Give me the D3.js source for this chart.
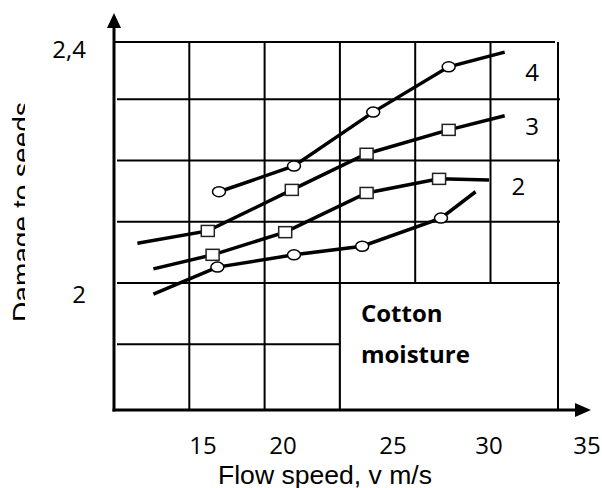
<!DOCTYPE html>
<html>
<head>
<meta charset="utf-8">
<script src="https://cdn.jsdelivr.net/npm/d3@7"></script>
<style>
  body { margin: 0; background: #fff; }
  svg { display: block; }
</style>
</head>
<body>
<div id="chart"></div>
<script>
// values
const xTickValues = [15, 20, 25, 30, 35];
const xTickLabels = ['15', '20', '25', '30', '35'];
const yTickValues = [2, 2.4];
const yTickLabels = ['2', '2,4'];
const gridValues = [1.9, 2.0, 2.1, 2.2, 2.3];

const speed1 = [11.9, 15.9, 20.5, 23.6, 27.5, 29.3];
const damage1 = [1.982, 2.026, 2.046, 2.060, 2.106, 2.149];
const marks1 = [0, 1, 1, 1, 1, 0];

const speed2 = [11.9, 15.6, 20.1, 23.8, 27.4, 30.0];
const damage2 = [2.023, 2.046, 2.083, 2.147, 2.170, 2.168];
const marks2 = [0, 1, 1, 1, 1, 0];

const speed3 = [10.9, 15.3, 20.4, 23.8, 27.9, 30.8];
const damage3 = [2.065, 2.085, 2.152, 2.211, 2.250, 2.273];
const marks3 = [0, 1, 1, 1, 1, 0];

const speed4 = [16.0, 20.5, 24.1, 27.9, 30.8];
const damage4 = [2.149, 2.191, 2.279, 2.353, 2.377];
const marks4 = [1, 1, 1, 1, 0];

const seriesNames = ['1', '2', '3', '4'];
const seriesShapes = ['circle', 'square', 'square', 'circle'];
const labelNames = ['2', '3', '4'];
const labelSpeed = [31.5, 32.2, 32.2];
const labelDamage = [2.157, 2.255, 2.343];

const xTitle = 'Flow speed, v m/s';
const yTitle = 'Damage to seeds';
const boxLines = ['Cotton', 'moisture'];

const W = 602, H = 488;
const plotLeft = 114, plotRight = 558, plotTop = 42, plotBottom = 410;
const cols = 6, colW = 75.3;

const svg = d3.select('#chart').append('svg')
  .attr('width', W)
  .attr('height', H);

const x = d3.scaleLinear().domain(xTickValues).range([203, 283, 393, 489, 587]);
const y = d3.scaleLinear().domain([2, 2.4]).range([283, 38]);

const colX = d3.range(1, cols).map(i => plotLeft + i * colW);
const boxLeft = colX[2];

// grid
const grid = svg.append('g').attr('stroke', '#000').attr('stroke-width', 2);
grid.append('line').attr('x1', plotLeft).attr('x2', plotRight - 3).attr('y1', plotTop).attr('y2', plotTop);
grid.append('line').attr('x1', plotRight).attr('x2', plotRight).attr('y1', plotTop).attr('y2', plotBottom);
grid.selectAll('.hgrid').data(gridValues).enter().append('line')
  .attr('class', 'hgrid')
  .attr('x1', plotLeft + 3)
  .attr('x2', d => (d < 2 ? boxLeft : plotRight + 2))
  .attr('y1', d => y(d))
  .attr('y2', d => y(d));
grid.selectAll('.vgrid').data(colX).enter().append('line')
  .attr('class', 'vgrid')
  .attr('x1', d => d)
  .attr('x2', d => d)
  .attr('y1', plotTop)
  .attr('y2', d => (d > boxLeft ? y(2) : plotBottom));

// moisture box
svg.append('rect')
  .attr('x', boxLeft)
  .attr('y', y(2))
  .attr('width', plotRight - boxLeft)
  .attr('height', plotBottom - y(2))
  .attr('fill', '#fff')
  .attr('stroke', '#000')
  .attr('stroke-width', 2);
svg.selectAll('.boxtext').data(boxLines).enter().append('text')
  .attr('class', 'boxtext')
  .attr('x', boxLeft + 21)
  .attr('y', (d, i) => 322 + i * 41)
  .attr('font-family', 'Open Sans')
  .attr('font-weight', 'bold')
  .attr('font-size', 24)
  .text(d => d);

// series
const series = [
  { speed: speed1, damage: damage1, marks: marks1 },
  { speed: speed2, damage: damage2, marks: marks2 },
  { speed: speed3, damage: damage3, marks: marks3 },
  { speed: speed4, damage: damage4, marks: marks4 },
].map((s, k) => ({
  name: seriesNames[k],
  shape: seriesShapes[k],
  points: s.speed.map((v, i) => ({ x: v, y: s.damage[i], mark: s.marks[i] })),
}));

const line = d3.line().x(d => x(d.x)).y(d => y(d.y));

svg.selectAll('.series').data(series).enter().append('path')
  .attr('class', 'series')
  .attr('d', d => line(d.points))
  .attr('fill', 'none')
  .attr('stroke', '#000')
  .attr('stroke-width', 3.5);

series.forEach((s) => {
  const pts = s.points.filter(p => p.mark);
  if (s.shape === 'circle') {
    svg.selectAll(null).data(pts).enter().append('ellipse')
      .attr('cx', d => x(d.x))
      .attr('cy', d => y(d.y))
      .attr('rx', 6.5)
      .attr('ry', 5)
      .attr('fill', '#fff')
      .attr('stroke', '#000')
      .attr('stroke-width', 1.5);
  } else {
    svg.selectAll(null).data(pts).enter().append('rect')
      .attr('x', d => x(d.x) - 6.5)
      .attr('y', d => y(d.y) - 5.5)
      .attr('width', 13)
      .attr('height', 11)
      .attr('fill', '#fff')
      .attr('stroke', '#222')
      .attr('stroke-width', 1.5);
  }
});

// series numbers
svg.selectAll('.lab').data(labelNames).enter().append('text')
  .attr('class', 'lab')
  .attr('x', (d, i) => x(labelSpeed[i]))
  .attr('y', (d, i) => y(labelDamage[i]))
  .attr('dy', '0.35em')
  .attr('text-anchor', 'middle')
  .attr('font-family', 'Open Sans')
  .attr('font-size', 24)
  .text(d => d);

// axes
const axes = svg.append('g').attr('stroke', '#000').attr('stroke-width', 3);
axes.append('line').attr('x1', plotLeft).attr('x2', plotLeft).attr('y1', 26).attr('y2', plotBottom + 1.5);
axes.append('line').attr('x1', plotLeft - 1.5).attr('x2', 577).attr('y1', plotBottom).attr('y2', plotBottom);
svg.append('path').attr('d', `M${plotLeft},13L${plotLeft + 7},28L${plotLeft - 7},28Z`).attr('fill', '#000');
svg.append('path').attr('d', `M591,${plotBottom}L575,${plotBottom - 7}L575,${plotBottom + 7}Z`).attr('fill', '#000');

svg.selectAll('.xtick').data(xTickValues).enter().append('text')
  .attr('class', 'xtick')
  .attr('x', d => x(d))
  .attr('y', 454)
  .attr('text-anchor', 'middle')
  .attr('font-family', 'Open Sans')
  .attr('font-size', 24)
  .text((d, i) => xTickLabels[i]);

svg.selectAll('.ytick').data(yTickValues).enter().append('text')
  .attr('class', 'ytick')
  .attr('x', 86)
  .attr('y', d => y(d) + 20)
  .attr('text-anchor', 'end')
  .attr('font-family', 'Open Sans')
  .attr('font-size', 24)
  .text((d, i) => yTickLabels[i]);

svg.append('text')
  .attr('x', 218)
  .attr('y', 484)
  .attr('font-family', 'Liberation Sans')
  .attr('font-size', 25)
  .attr('textLength', 214)
  .attr('lengthAdjust', 'spacingAndGlyphs')
  .text(xTitle);

// y title is cut off in the original
svg.append('clipPath').attr('id', 'ycut')
  .append('rect').attr('x', 0).attr('y', 0).attr('width', 25).attr('height', H);
svg.append('g')
  .attr('clip-path', 'url(#ycut)')
  .append('text')
  .attr('transform', 'translate(31,322) rotate(-90)')
  .attr('font-family', 'Liberation Sans')
  .attr('font-size', 26)
  .attr('textLength', 220)
  .attr('lengthAdjust', 'spacingAndGlyphs')
  .text(yTitle);
</script>
</body>
</html>
